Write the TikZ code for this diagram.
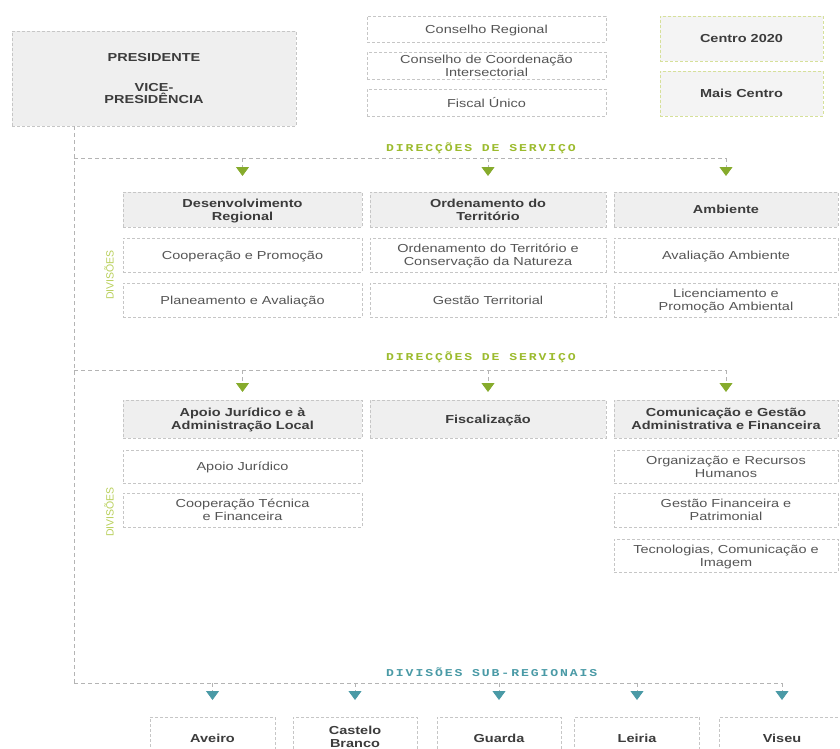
\documentclass[tikz,border=0pt]{standalone}
\usepackage{fontspec}
\setmainfont{Liberation Sans}[FakeStretch=1.25]
\newfontfamily\lblfont{Liberation Mono}[FakeStretch=1.25,LetterSpace=18]
\newfontfamily\divfont{Liberation Sans}
\usetikzlibrary{arrows.meta}
\definecolor{bordc}{HTML}{C6C6C6}
\definecolor{busc}{HTML}{B4B4B4}
\definecolor{hdr}{HTML}{EFEFEF}
\definecolor{txt}{HTML}{555555}
\definecolor{txtb}{HTML}{3C3C3C}
\definecolor{agreen}{HTML}{86AB2C}
\definecolor{lgreen}{HTML}{9CBB2E}
\definecolor{dgreen}{HTML}{B8CF5A}
\definecolor{ateal}{HTML}{4A9AA6}
\definecolor{rbord}{HTML}{D6E09A}
\definecolor{rfill}{HTML}{F4F4F4}
\begin{document}
\begin{tikzpicture}[x=1pt,y=-1pt,
  box/.style={draw=bordc, dash pattern=on 3pt off 2pt, line width=0.7pt, fill=white,
    text=txt, align=center, inner sep=0pt, text depth=-4pt, font=\fontsize{11.6}{12.6}\selectfont},
  hbox/.style={box, fill=hdr, text=txtb, font=\fontsize{11.6}{12.6}\selectfont\bfseries},
  rbox/.style={box, draw=rbord, fill=rfill, text=txtb, font=\fontsize{11.6}{12.6}\selectfont\bfseries},
  sbox/.style={box, text=txtb, font=\fontsize{11.6}{12.6}\selectfont\bfseries},
  bus/.style={draw=busc, dash pattern=on 4pt off 3pt, line width=0.8pt},
  stubg/.style={bus, -{Triangle[width=13pt,length=9pt,color=agreen]}},
  stubt/.style={bus, -{Triangle[width=13pt,length=9pt,color=ateal]}},
  lbl/.style={anchor=west, inner sep=0pt, font=\lblfont\fontsize{10.5}{12}\selectfont\bfseries},
  divl/.style={rotate=90, inner sep=0pt, text=dgreen, font=\divfont\fontsize{10.5}{12}\selectfont}]
\useasboundingbox (0,0) rectangle (840,749);
\clip (0,0) rectangle (840,749);

% top
\node[hbox, minimum width=284, minimum height=95, text depth=0pt] (pres) at (154,78.5) {PRESIDENTE\\[17pt]VICE-\\PRESIDÊNCIA};
\node[box, minimum width=239, minimum height=26] (cr) at (486.5,29) {Conselho Regional};
\node[box, minimum width=239, minimum height=27] (cci) at (486.5,65.5) {Conselho de Coordenação\\Intersectorial};
\node[box, minimum width=239, minimum height=27] (fu) at (486.5,102.5) {Fiscal Único};
\node[rbox, minimum width=163, minimum height=45] (c20) at (741.5,38.5) {Centro 2020};
\node[rbox, minimum width=163, minimum height=45] (mc) at (741.5,93.5) {Mais Centro};

% section 1
\node[hbox, minimum width=239, minimum height=35] (dr) at (242.5,209.5) {Desenvolvimento\\Regional};
\node[hbox, minimum width=236, minimum height=35] (ot) at (488,209.5) {Ordenamento do\\Território};
\node[hbox, minimum width=224, minimum height=35] (amb) at (726,209.5) {Ambiente};
\node[box, minimum width=239, minimum height=34] (cp) at (242.5,255) {Cooperação e Promoção};
\node[box, minimum width=236, minimum height=34] (otcn) at (488,255) {Ordenamento do Território e\\Conservação da Natureza};
\node[box, minimum width=224, minimum height=34] (aa) at (726,255) {Avaliação Ambiente};
\node[box, minimum width=239, minimum height=34] (pa) at (242.5,300) {Planeamento e Avaliação};
\node[box, minimum width=236, minimum height=34] (gt) at (488,300) {Gestão Territorial};
\node[box, minimum width=224, minimum height=34] (lpa) at (726,300) {Licenciamento e\\Promoção Ambiental};
\node[divl] (dv1) at (109,275) {DIVISÕES};

% section 2
\node[hbox, minimum width=239, minimum height=38] (aj) at (242.5,419) {Apoio Jurídico e à\\Administração Local};
\node[hbox, minimum width=236, minimum height=38] (fis) at (488,419) {Fiscalização};
\node[hbox, minimum width=224, minimum height=38] (cga) at (726,419) {Comunicação e Gestão\\Administrativa e Financeira};
\node[box, minimum width=239, minimum height=33] (apj) at (242.5,466.5) {Apoio Jurídico};
\node[box, minimum width=239, minimum height=34] (ctf) at (242.5,510) {Cooperação Técnica\\e Financeira};
\node[box, minimum width=224, minimum height=33] (orh) at (726,466.5) {Organização e Recursos\\Humanos};
\node[box, minimum width=224, minimum height=34] (gfp) at (726,510) {Gestão Financeira e\\Patrimonial};
\node[box, minimum width=224, minimum height=33] (tci) at (726,555.5) {Tecnologias, Comunicação e\\Imagem};
\node[divl] (dv2) at (109,512) {DIVISÕES};

% section 3
\node[sbox, minimum width=125, minimum height=43] (ave) at (212.5,738.5) {Aveiro};
\node[sbox, minimum width=124, minimum height=43, text depth=4pt] (cb) at (355,738.5) {Castelo\\Branco};
\node[sbox, minimum width=124, minimum height=43] (gua) at (499,738.5) {Guarda};
\node[sbox, minimum width=125, minimum height=43] (lei) at (637,738.5) {Leiria};
\node[sbox, minimum width=125, minimum height=43] (vis) at (782,738.5) {Viseu};

% labels
\node[lbl, text=lgreen] (l1) at (386,148) {DIRECÇÕES DE SERVIÇO};
\node[lbl, text=lgreen] (l2) at (386,357.5) {DIRECÇÕES DE SERVIÇO};
\node[lbl, text=ateal] (l3) at (386,672) {DIVISÕES SUB-REGIONAIS};

% buses
\coordinate (b1L) at (74,158);
\coordinate (b2L) at (74,370);
\coordinate (b3L) at (74,683);
\coordinate (y1) at (0,176);
\coordinate (y2) at (0,392);
\coordinate (y3) at (0,700);
\draw[bus] (pres.south -| b1L) -- (b3L);
\draw[bus] (b1L) -- (amb.north |- b1L);
\draw[bus] (b2L) -- (cga.north |- b2L);
\draw[bus] (b3L) -- (vis.north |- b3L);

\draw[stubg] (dr.north |- b1L) -- (dr.north |- y1);
\draw[stubg] (ot.north |- b1L) -- (ot.north |- y1);
\draw[stubg] (amb.north |- b1L) -- (amb.north |- y1);
\draw[stubg] (aj.north |- b2L) -- (aj.north |- y2);
\draw[stubg] (fis.north |- b2L) -- (fis.north |- y2);
\draw[stubg] (cga.north |- b2L) -- (cga.north |- y2);
\draw[stubt] (ave.north |- b3L) -- (ave.north |- y3);
\draw[stubt] (cb.north |- b3L) -- (cb.north |- y3);
\draw[stubt] (gua.north |- b3L) -- (gua.north |- y3);
\draw[stubt] (lei.north |- b3L) -- (lei.north |- y3);
\draw[stubt] (vis.north |- b3L) -- (vis.north |- y3);
\end{tikzpicture}
\end{document}
